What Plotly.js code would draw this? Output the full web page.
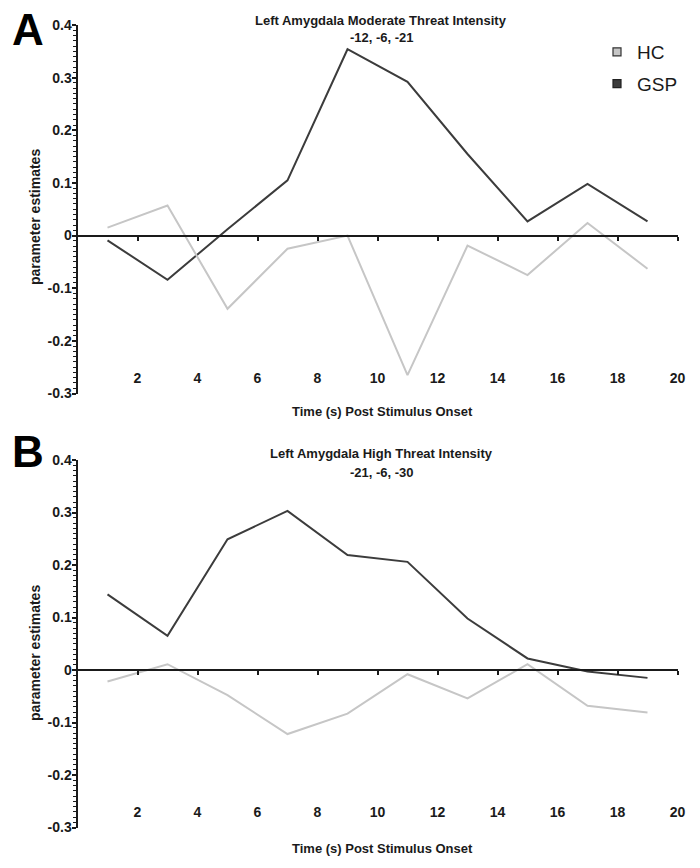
<!DOCTYPE html>
<html>
<head>
<meta charset="utf-8">
<script src="https://cdn.plot.ly/plotly-3.0.1.min.js"></script>
<style>html,body{margin:0;padding:0;background:#fff;}#chart{width:700px;height:868px;}</style>
</head>
<body>
<div id="chart"></div>
<script>
// ---- data ----
const timePoints = [1, 3, 5, 7, 9, 11, 13, 15, 17, 19];
const moderateGSP = [-0.009, -0.084, 0.012, 0.105, 0.354, 0.292, 0.155, 0.027, 0.098, 0.027];
const moderateHC  = [0.015, 0.057, -0.139, -0.025, 0.000, -0.265, -0.019, -0.075, 0.024, -0.063];
const highGSP = [0.144, 0.065, 0.249, 0.303, 0.219, 0.206, 0.098, 0.022, -0.003, -0.015];
const highHC  = [-0.022, 0.011, -0.048, -0.122, -0.083, -0.008, -0.054, 0.011, -0.068, -0.081];
const xTickVals = [2, 4, 6, 8, 10, 12, 14, 16, 18, 20];
const xTickText = ['2', '4', '6', '8', '10', '12', '14', '16', '18', '20'];
const yTickVals = [-0.3, -0.2, -0.1, 0, 0.1, 0.2, 0.3, 0.4];
const yTickText = ['-0.3', '-0.2', '-0.1', '0', '0.1', '0.2', '0.3', '0.4'];
const seriesNames = ['HC', 'GSP'];
const panelTitles = ['Left Amygdala Moderate Threat Intensity', 'Left Amygdala High Threat Intensity'];
const panelCoords = ['-12, -6, -21', '-21, -6, -30'];
const panelLetters = ['A', 'B'];
const xTitle = 'Time (s) Post Stimulus Onset';
const yTitle = 'parameter estimates';

// ---- style ----
const FONT = 'Liberation Sans, Arial, sans-serif';
const GSP_COLOR = '#3c3c3c';
const HC_COLOR = '#c6c6c6';
const AX = '#1a1a1a';
const W = 700, H = 868;
const xDom = [77.5 / W, 677.5 / W];
const yDomA = [(H - 393.5) / H, (H - 25) / H];
const yDomB = [(H - 827.5) / H, (H - 460) / H];
const zeroA = (H - 236) / H;
const zeroB = (H - 670) / H;
const labelPosA = (H - 368) / H;
const labelPosB = (H - 802) / H;

function lineTrace(y, color, xa, ya) {
  return {x: timePoints, y: y, type: 'scatter', mode: 'lines', xaxis: xa, yaxis: ya,
    line: {color: color, width: 2}, showlegend: false, hoverinfo: 'skip'};
}

const traces = [
  lineTrace(moderateHC, HC_COLOR, 'x3', 'y'),
  lineTrace(moderateGSP, GSP_COLOR, 'x', 'y'),
  lineTrace(highHC, HC_COLOR, 'x4', 'y2'),
  lineTrace(highGSP, GSP_COLOR, 'x2', 'y2'),
  {x: [null], y: [null], type: 'scatter', mode: 'markers', name: seriesNames[0], legendgroup: 'a',
    marker: {symbol: 'square', size: 8, color: HC_COLOR, line: {color: '#333', width: 1.2}}, xaxis: 'x', yaxis: 'y'},
  {x: [null], y: [null], type: 'scatter', mode: 'markers', name: seriesNames[1], legendgroup: 'b',
    marker: {symbol: 'square', size: 8, color: GSP_COLOR, line: {color: '#222', width: 1.2}}, xaxis: 'x', yaxis: 'y'}
];

const tickFont = {family: FONT, size: 14, color: AX, weight: 'bold'};

// base axis: invisible line, tick labels only, placed near bottom of panel; carries GSP trace
function labelAxis(pos) {
  return {domain: xDom, range: [0, 20], anchor: 'free', position: pos, side: 'bottom',
    showline: false, showgrid: false, zeroline: false, ticks: '',
    tickmode: 'array', tickvals: xTickVals, ticktext: xTickText, tickfont: tickFont, fixedrange: true};
}
// zero axis: line with ticks at y=0, carries HC trace
function zeroAxis(overlay, pos) {
  return {domain: xDom, range: [0, 20], overlaying: overlay, anchor: 'free', position: pos, side: 'bottom',
    showline: true, linecolor: AX, linewidth: 2, showgrid: false, zeroline: false,
    ticks: 'outside', ticklen: 4, tickwidth: 2, tickcolor: AX, tickmode: 'array', tickvals: xTickVals,
    showticklabels: false, fixedrange: true};
}
function yAxis(dom, anchor) {
  return {domain: dom, range: [-0.3, 0.4], anchor: anchor, showline: true, linecolor: AX, linewidth: 2,
    showgrid: false, zeroline: false, ticks: 'outside', ticklen: 4, tickwidth: 2, tickcolor: AX,
    tickmode: 'array', tickvals: yTickVals, ticktext: yTickText, tickfont: tickFont, ticklabelstandoff: -3,
    minor: {tickmode: 'linear', tick0: 0, dtick: 0.01, ticks: 'outside', ticklen: 3, tickwidth: 1, tickcolor: AX},
    fixedrange: true};
}

const annotations = [];
const titleY = [[20, 37], [453, 472]];
const letterY = [29, 451];
const xTitleY = [411, 848];
const yTitleY = [217, 653];
for (let i = 0; i < 2; i++) {
  annotations.push({text: panelTitles[i], xref: 'paper', yref: 'paper', x: 381 / W, y: (H - titleY[i][0]) / H,
    xanchor: 'center', yanchor: 'middle', showarrow: false, font: {family: FONT, size: 13, color: AX, weight: 'bold'}});
  annotations.push({text: panelCoords[i], xref: 'paper', yref: 'paper', x: 382 / W, y: (H - titleY[i][1]) / H,
    xanchor: 'center', yanchor: 'middle', showarrow: false, font: {family: FONT, size: 13, color: AX, weight: 'bold'}});
  annotations.push({text: panelLetters[i], xref: 'paper', yref: 'paper', x: 28 / W, y: (H - letterY[i]) / H,
    xanchor: 'center', yanchor: 'middle', showarrow: false, font: {family: FONT, size: 44, color: '#000', weight: 'bold'}});
  annotations.push({text: xTitle, xref: 'paper', yref: 'paper', x: 382 / W, y: (H - xTitleY[i]) / H,
    xanchor: 'center', yanchor: 'middle', showarrow: false, font: {family: FONT, size: 13, color: AX, weight: 'bold'}});
  annotations.push({text: yTitle, xref: 'paper', yref: 'paper', x: 35 / W, y: (H - yTitleY[i]) / H, textangle: -90,
    xanchor: 'center', yanchor: 'middle', showarrow: false, font: {family: FONT, size: 14, color: AX, weight: 'bold'}});
}

const layout = {
  width: W, height: H, margin: {l: 0, r: 0, t: 0, b: 0},
  paper_bgcolor: '#fff', plot_bgcolor: 'rgba(0,0,0,0)',
  font: {family: FONT, color: AX},
  xaxis: labelAxis(labelPosA),
  xaxis2: labelAxis(labelPosB),
  xaxis3: zeroAxis('x', zeroA),
  xaxis4: zeroAxis('x2', zeroB),
  yaxis: yAxis(yDomA, 'x'),
  yaxis2: yAxis(yDomB, 'x2'),
  showlegend: true,
  legend: {x: 597 / W, y: (H - 33) / H, xanchor: 'left', yanchor: 'top', bgcolor: 'rgba(0,0,0,0)',
    font: {family: FONT, size: 19, color: AX}, traceorder: 'grouped', tracegroupgap: 4, itemwidth: 30},
  annotations: annotations
};

Plotly.newPlot('chart', traces, layout, {staticPlot: true, displayModeBar: false});
</script>
</body>
</html>
